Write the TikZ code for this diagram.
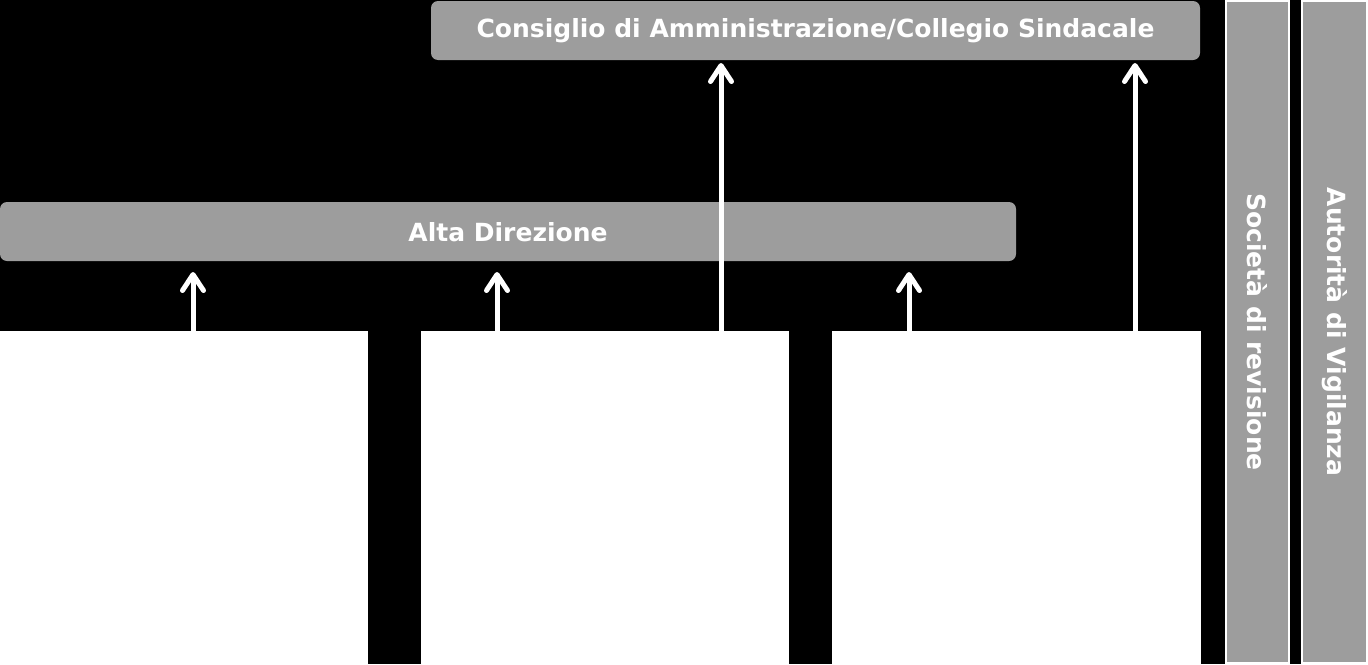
\documentclass[tikz,border=0pt]{standalone}
\usepackage{fontspec}
\setmainfont{DejaVu Sans}
\usetikzlibrary{arrows.meta}
\definecolor{bargray}{RGB}{157,157,157}
\begin{document}
\begin{tikzpicture}[x=1pt,y=-1pt,
  bar/.style={fill=bargray,rounded corners=7pt,inner sep=0pt},
  lbl/.style={text=white,font=\bfseries\fontsize{25}{29}\selectfont},
  wbox/.style={fill=white,draw=none,inner sep=0pt},
  vbar/.style={fill=bargray,draw=white,line width=2pt,inner sep=0pt},
  vtext/.style={lbl,rotate=-90},
  arr/.style={draw=white,line width=5pt,-{Straight Barb[length=16pt,width=21pt,line cap=round,line join=round]}}]
\fill[black] (0,0) rectangle (1368,664);
\useasboundingbox (0,0) rectangle (1368,664);
% bars
\path[bar] (431,1) rectangle (1200,60);
\node[lbl] (cda) at (815.5,31) {Consiglio di Amministrazione/Collegio Sindacale};
\coordinate (cdaS) at (815.5,63);
\path[bar] (0,202) rectangle (1016,261);
\node[lbl] (alta) at (508,232) {Alta Direzione};
\coordinate (altaS) at (508,272);
% white boxes
\path[wbox] (0,331) rectangle (368,664);
\path[wbox] (421,331) rectangle (789,664);
\path[wbox] (832,331) rectangle (1201,664);
\coordinate (b1) at (184,331);
\coordinate (b2) at (605,331);
\coordinate (b3) at (1016,331);
% vertical bars
\path[vbar] (1226,1) rectangle (1289,663);
\path[vbar] (1302,1) rectangle (1367,663);
\node[vtext] (soc) at (1257.5,332) {Società di revisione};
\node[vtext] (aut) at (1334.5,332) {Autorità di Vigilanza};
% arrow x positions
\coordinate (x1) at (193,0);
\coordinate (x2) at (497,0);
\coordinate (x3) at (721,0);
\coordinate (x4) at (909,0);
\coordinate (x5) at (1135,0);
\draw[arr] (b1 -| x1) -- (altaS -| x1);
\draw[arr] (b2 -| x2) -- (altaS -| x2);
\draw[arr] (b3 -| x4) -- (altaS -| x4);
\draw[arr] (b2 -| x3) -- (cdaS -| x3);
\draw[arr] (b3 -| x5) -- (cdaS -| x5);
\end{tikzpicture}
\end{document}
